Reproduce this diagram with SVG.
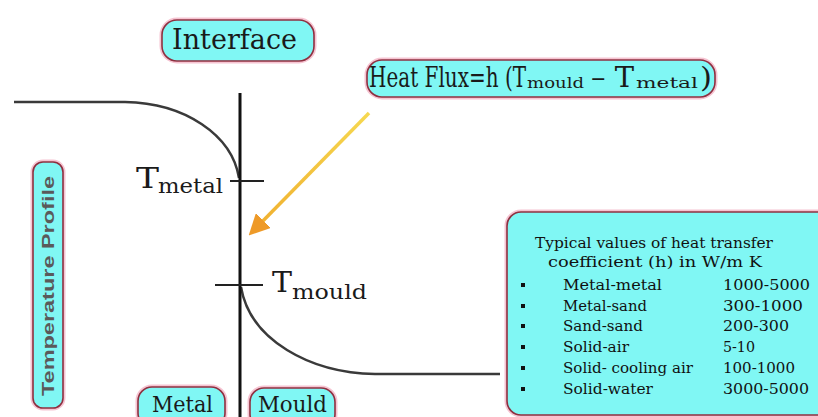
<svg xmlns="http://www.w3.org/2000/svg" width="818" height="417" viewBox="0 0 818 417">
<defs>
<style>
.halo{fill:none;stroke:#f6c4d2;stroke-width:5}
.box{fill:#80f7f4;stroke:#8e3040;stroke-width:1.6}
.curve{fill:none;stroke:#3a3a3a;stroke-width:2.5}
.axis{fill:none;stroke:#111;stroke-width:3}
.tick{fill:none;stroke:#222;stroke-width:2}
</style>
<linearGradient id="ag" x1="1" y1="0" x2="0" y2="1">
<stop offset="0" stop-color="#f6d850"/>
<stop offset="1" stop-color="#f0b030"/>
</linearGradient>
<marker id="ah" markerWidth="6" markerHeight="6" refX="3" refY="3" orient="auto" markerUnits="strokeWidth">
<path d="M0,0 L6,3 L0,6 Z" fill="#ee9a28"/>
</marker>
</defs>

<g id="connectors">
<path class="curve" d="M14,102 L125,102 C185,103 232,135 239,178"/>
<path class="curve" d="M241,287 C250,340 310,373 375,374 L500,374"/>
<path class="axis" d="M240,93 L240,417"/>
<path class="tick" d="M230,181 L264,181"/>
<path class="tick" d="M215,285 L263,285"/>
<line x1="369" y1="113" x2="256" y2="228" stroke="url(#ag)" stroke-width="3.5" marker-end="url(#ah)"/>
</g>

<g font-family="'DejaVu Serif', 'Liberation Serif', serif" fill="#1a1a1a">
<g id="interface">
<rect class="halo" x="162" y="20" width="152" height="41" rx="15"/>
<rect class="box" x="162" y="20" width="152" height="41" rx="15"/>
<text x="172" y="49" font-size="27" textLength="125" lengthAdjust="spacingAndGlyphs">Interface</text>
</g>

<g id="heatflux">
<rect class="halo" x="367" y="60" width="348" height="37" rx="15"/>
<rect class="box" x="367" y="60" width="348" height="37" rx="15"/>
<text transform="translate(369,87) scale(0.74,1)" font-size="27">Heat Flux=h (T</text>
<text x="527" y="88" font-size="14" textLength="57" lengthAdjust="spacingAndGlyphs">mould</text>
<text x="591" y="87" font-size="27" textLength="43" lengthAdjust="spacingAndGlyphs">– T</text>
<text x="636" y="88" font-size="14" textLength="62" lengthAdjust="spacingAndGlyphs">metal</text>
<text x="700" y="87" font-size="27" textLength="12" lengthAdjust="spacingAndGlyphs">)</text>
</g>

<g id="tmetal">
<text x="136" y="188" font-size="27" textLength="23" lengthAdjust="spacingAndGlyphs">T</text>
<text x="158" y="193" font-size="20" textLength="65" lengthAdjust="spacingAndGlyphs">metal</text>
</g>

<g id="tmould">
<text x="272" y="292" font-size="27" textLength="20" lengthAdjust="spacingAndGlyphs">T</text>
<text x="292" y="299" font-size="20" textLength="75" lengthAdjust="spacingAndGlyphs">mould</text>
</g>

<g id="metal">
<rect class="halo" x="138" y="387" width="87" height="40" rx="14"/>
<rect class="box" x="138" y="387" width="87" height="40" rx="14"/>
<text x="152" y="412" font-size="22" textLength="61" lengthAdjust="spacingAndGlyphs">Metal</text>
</g>

<g id="mould">
<rect class="halo" x="250" y="388" width="85" height="40" rx="14"/>
<rect class="box" x="250" y="388" width="85" height="40" rx="14"/>
<text x="258" y="412" font-size="22" textLength="69" lengthAdjust="spacingAndGlyphs">Mould</text>
</g>

<g id="table" font-size="14" fill="#111">
<rect class="halo" x="507" y="212" width="330" height="203" rx="14"/>
<rect class="box" x="507" y="212" width="330" height="203" rx="14"/>
<text x="535" y="248" textLength="238" lengthAdjust="spacingAndGlyphs">Typical values of heat transfer</text>
<text x="548" y="267" textLength="214" lengthAdjust="spacingAndGlyphs">coefficient (h) in W/m  K</text>
<rect x="521" y="283" width="4" height="4"/>
<rect x="521" y="304" width="4" height="4"/>
<rect x="521" y="324" width="4" height="4"/>
<rect x="521" y="345" width="4" height="4"/>
<rect x="521" y="366" width="4" height="4"/>
<rect x="521" y="387" width="4" height="4"/>
<text x="563" y="290" textLength="99" lengthAdjust="spacingAndGlyphs">Metal-metal</text>
<text x="563" y="311" textLength="84" lengthAdjust="spacingAndGlyphs">Metal-sand</text>
<text x="563" y="331" textLength="80" lengthAdjust="spacingAndGlyphs">Sand-sand</text>
<text x="563" y="352" textLength="66" lengthAdjust="spacingAndGlyphs">Solid-air</text>
<text x="563" y="373" textLength="130" lengthAdjust="spacingAndGlyphs">Solid- cooling air</text>
<text x="563" y="394" textLength="90" lengthAdjust="spacingAndGlyphs">Solid-water</text>
<text x="723" y="290" textLength="87" lengthAdjust="spacingAndGlyphs">1000-5000</text>
<text x="723" y="311" textLength="80" lengthAdjust="spacingAndGlyphs">300-1000</text>
<text x="723" y="331" textLength="66" lengthAdjust="spacingAndGlyphs">200-300</text>
<text x="723" y="352" textLength="32" lengthAdjust="spacingAndGlyphs">5-10</text>
<text x="723" y="373" textLength="72" lengthAdjust="spacingAndGlyphs">100-1000</text>
<text x="723" y="394" textLength="86" lengthAdjust="spacingAndGlyphs">3000-5000</text>
</g>
</g>

<g id="tempprofile">
<rect class="halo" x="33" y="162" width="30" height="246" rx="10"/>
<rect class="box" x="33" y="162" width="30" height="246" rx="10"/>
<text x="54" y="286" transform="rotate(-90 54 286)" text-anchor="middle" font-family="'Liberation Sans','DejaVu Sans',sans-serif" font-size="17" font-weight="bold" fill="#5a5a5a" textLength="220" lengthAdjust="spacingAndGlyphs">Temperature Profile</text>
</g>
</svg>
